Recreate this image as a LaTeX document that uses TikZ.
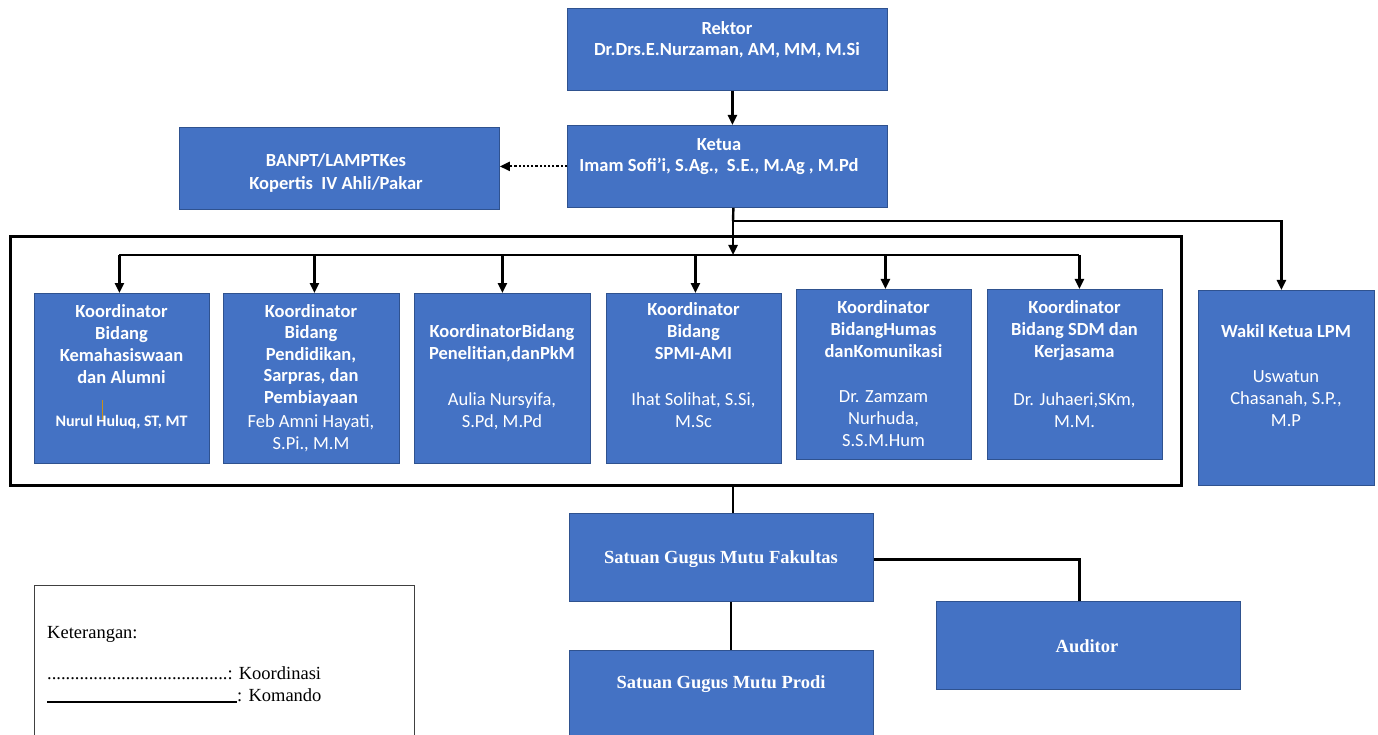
\documentclass[tikz,border=0pt]{standalone}
\usepackage{fontspec}
\newfontfamily\calfont{Carlito}
\newfontfamily\tnrfont{Liberation Serif}
\usetikzlibrary{arrows.meta}
\definecolor{boxblue}{HTML}{4472C4}
\definecolor{boxedge}{HTML}{2F528F}
\definecolor{cursor}{HTML}{C8901A}
\begin{document}
\begin{tikzpicture}[x=1pt,y=-1pt,
  box/.style={draw=boxedge, line width=0.8pt, fill=boxblue, inner sep=0pt, anchor=north west},
  tb/.style={text=white, font=\calfont\bfseries\fontsize{18.5}{22}\selectfont, align=center, inner sep=0pt, anchor=north},
  tr/.style={text=white, font=\calfont\fontsize{18.5}{22.3}\selectfont, align=center, inner sep=0pt, anchor=north},
  ts/.style={text=white, font=\tnrfont\bfseries\fontsize{18.5}{22}\selectfont, inner sep=0pt},
  lg/.style={font=\tnrfont\fontsize{18.5}{22}\selectfont, inner sep=0pt, anchor=base west},
  conn/.style={line width=2.4pt, black},
  arr/.style={-{Triangle[length=10pt,width=9pt]}},
  grp/.style={draw, line width=2.6pt, inner sep=0pt, anchor=north west}
]
\useasboundingbox (0,0) rectangle (1378,735);

% top boxes
\node[box, minimum width=320pt, minimum height=82pt] (rektor) at (567,8) {};
\node[tb] (rektort) at (727,21) {Rektor\\[-1pt]Dr.Drs.E.Nurzaman, AM, MM, M.Si};
\node[box, minimum width=320pt, minimum height=82pt] (ketua) at (567,125) {};
\node[tb] (ketuat) at (719,138) {Ketua\\[-1pt]Imam Sofi’i, S.Ag.,\ \ S.E., M.Ag , M.Pd};
\node[box, minimum width=320pt, minimum height=82pt] (banpt) at (179,127) {};
\node[tb] (banptt) at (336,153) {BANPT/LAMPTKes\\[1pt]Kopertis\ \ IV Ahli/Pakar};

% group rectangle
\node[grp, minimum width=1171pt, minimum height=249pt] (group) at (9,235) {};

% koordinator boxes
\node[box, minimum width=175pt, minimum height=170pt] (k1) at (34,293) {};
\node[tb] (k1t) at (121.5,304) {Koordinator\\Bidang\\Kemahasiswaan\\dan Alumni};
\node[text=white, font=\calfont\bfseries\fontsize{16}{20}\selectfont, inner sep=0pt, anchor=north] (k1n) at (121.5,415) {Nurul Huluq, ST, MT};
\draw[cursor, line width=0.9pt] (102,400) -- (102,420);

\node[box, minimum width=176pt, minimum height=170pt] (k2) at (223,293) {};
\node[tb] (k2t) at (311,304) {Koordinator\\[-0.5pt]Bidang\\[-0.5pt]Pendidikan,\\[-0.5pt]Sarpras, dan\\[-0.5pt]Pembiayaan};
\node[tr] (k2n) at (311,414) {Feb Amni Hayati,\\S.Pi., M.M};

\node[box, minimum width=176pt, minimum height=170pt] (k3) at (414,293) {};
\node[tb] (k3t) at (502,324) {KoordinatorBidang\\Penelitian,danPkM};
\node[tr] (k3n) at (502,392) {Aulia Nursyifa,\\S.Pd, M.Pd};

\node[box, minimum width=175pt, minimum height=170pt] (k4) at (606,293) {};
\node[tb] (k4t) at (693.5,302) {Koordinator\\Bidang\\SPMI-AMI};
\node[tr] (k4n) at (693.5,392) {Ihat Solihat, S.Si,\\M.Sc};

\node[box, minimum width=175pt, minimum height=170pt] (k5) at (796,289) {};
\node[tb] (k5t) at (883.5,300) {Koordinator\\BidangHumas\\danKomunikasi};
\node[tr] (k5n) at (883.5,390) {Dr. Zamzam\\Nurhuda,\\S.S.M.Hum};

\node[box, minimum width=175pt, minimum height=170pt] (k6) at (987,289) {};
\node[tb] (k6t) at (1074.5,300) {Koordinator\\Bidang SDM dan\\Kerjasama};
\node[tr] (k6n) at (1074.5,392) {Dr. Juhaeri,SKm,\\M.M.};

\node[box, minimum width=176pt, minimum height=195pt] (wakil) at (1198,290) {};
\node[tb] (wakilt) at (1286,324) {Wakil Ketua LPM};
\node[tr] (wakiln) at (1286,370) {Uswatun\\Chasanah, S.P.,\\M.P};

% bottom boxes
\node[box, minimum width=304pt, minimum height=88pt] (fak) at (569,513) {};
\node[ts] (fakt) at (721,559) {Satuan Gugus Mutu Fakultas};
\node[box, minimum width=304pt, minimum height=95pt] (prodi) at (569,650) {};
\node[ts] (prodit) at (721,684) {Satuan Gugus Mutu Prodi};
\node[box, minimum width=304pt, minimum height=88pt] (auditor) at (936,601) {};
\node[ts] (auditort) at (1087,646) {Auditor};

% legend
\node[draw=black!75, line width=0.9pt, inner sep=0pt, anchor=north west, minimum width=380pt, minimum height=160pt] (legend) at (34,585) {};
\node[lg] (lg1) at (47,638) {Keterangan:};
\node[lg] (lg2) at (47,679) {.......................................: Koordinasi};
\node[lg] (lg3) at (47,701) {\rule[-1.5pt]{190pt}{1.3pt}: Komando};

% connectors
\coordinate (j1) at (733,221);
\coordinate (dist) at (733,255);
\draw[conn, arr] ([xshift=5pt]rektor.south) -- ([xshift=5pt]ketua.north);
\draw[line width=2.2pt, dotted, arr] (ketua.west) -- (banpt.east |- ketua.west);
\draw[conn] ([xshift=6pt]ketua.south) -- (j1);
\draw[conn, arr] (j1) -| ([xshift=-5pt]wakil.north);
\draw[conn, arr] (j1) -- (dist);
\draw[conn] ([xshift=-2.5pt]dist -| k1.north) -- ([xshift=4.5pt]dist -| k6.north);
\draw[conn, arr] ([xshift=-2.5pt]dist -| k1.north) -- ([xshift=-2.5pt]k1.north);
\draw[conn, arr] ([xshift=3pt]dist -| k2.north) -- ([xshift=3pt]k2.north);
\draw[conn, arr] (dist -| k3.north) -- (k3.north);
\draw[conn, arr] ([xshift=1.5pt]dist -| k4.north) -- ([xshift=1.5pt]k4.north);
\draw[conn, arr] ([xshift=1.5pt]dist -| k5.north) -- ([xshift=1.5pt]k5.north);
\draw[conn, arr] ([xshift=4.5pt]dist -| k6.north) -- ([xshift=4.5pt]k6.north);
\draw[conn] (group.south -| dist) -- (fak.north -| dist);
\draw[line width=2pt] ([xshift=10pt]fak.south) -- ([xshift=10pt]prodi.north);
\draw[conn] ([yshift=-2pt]fak.east) -| ([xshift=-9pt]auditor.north);
\end{tikzpicture}
\end{document}
